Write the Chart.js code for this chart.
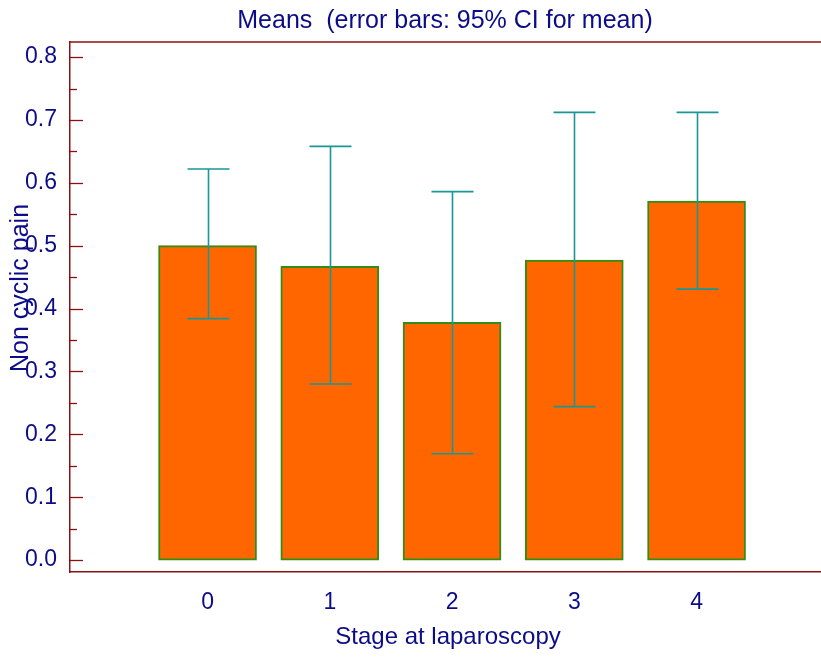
<!DOCTYPE html>
<html>
<head>
<meta charset="utf-8">
<title>Non cyclic pain by stage</title>
<script src="https://cdn.jsdelivr.net/npm/chart.js@4.4.1/dist/chart.umd.min.js"></script>
<style>
    html, body { margin: 0; padding: 0; background: #ffffff; }
    #wrap { width: 821px; height: 657px; }
</style>
</head>
<body>
<div id="wrap"><canvas id="meansChart" width="821" height="657"></canvas></div>
<script>
const stages = ["0", "1", "2", "3", "4"];
const means = [0.500, 0.467, 0.378, 0.477, 0.571];
const ciLower = [0.384, 0.280, 0.169, 0.244, 0.431];
const ciUpper = [0.622, 0.658, 0.586, 0.712, 0.712];
const yTicks = [0.0, 0.1, 0.2, 0.3, 0.4, 0.5, 0.6, 0.7, 0.8];

const chartTitle = "Means  (error bars: 95% CI for mean)";
const xTitle = "Stage at laparoscopy";
const yTitle = "Non cyclic pain";

const textColor = "#0c0c88";
const axisColor = "#8b1010";
const errColor = "#1a9696";
const fontFamily = "'Liberation Sans', Arial, sans-serif";

// titles, top frame line, inward y ticks and the CI whiskers
const decorPlugin = {
    id: "decor",
    afterDatasetsDraw(chart) {
        const ctx = chart.ctx;
        const area = chart.chartArea;
        const x = chart.scales.x;
        const y = chart.scales.y;

        ctx.save();

        // error bars
        ctx.strokeStyle = errColor;
        ctx.lineWidth = 1.6;
        const capHalf = 21;
        stages.forEach((s, i) => {
            const px = Math.round(x.getPixelForValue(i)) + 0.5;
            const top = y.getPixelForValue(ciUpper[i]);
            const bot = y.getPixelForValue(ciLower[i]);
            ctx.beginPath();
            ctx.moveTo(px, top);
            ctx.lineTo(px, bot);
            ctx.moveTo(px - capHalf, top);
            ctx.lineTo(px + capHalf, top);
            ctx.moveTo(px - capHalf, bot);
            ctx.lineTo(px + capHalf, bot);
            ctx.stroke();
        });

        // top frame line
        ctx.strokeStyle = axisColor;
        ctx.lineWidth = 1.5;
        ctx.beginPath();
        ctx.moveTo(area.left, area.top);
        ctx.lineTo(chart.width, area.top);
        ctx.stroke();

        // y ticks drawn inside the plot
        ctx.lineWidth = 1.3;
        yTicks.forEach((v) => {
            const py = Math.round(y.getPixelForValue(v)) + 0.5;
            ctx.beginPath();
            ctx.moveTo(area.left, py);
            ctx.lineTo(area.left + 13, py);
            ctx.stroke();
            const pm = Math.round(y.getPixelForValue(v + 0.05)) + 0.5;
            if (v + 0.05 < y.max) {
                ctx.beginPath();
                ctx.moveTo(area.left, pm);
                ctx.lineTo(area.left + 7, pm);
                ctx.stroke();
            }
        });

        // texts
        ctx.fillStyle = textColor;
        ctx.textAlign = "center";
        ctx.textBaseline = "middle";
        ctx.font = "25px " + fontFamily;
        ctx.fillText(chartTitle, 445, 21);

        ctx.font = "24px " + fontFamily;
        ctx.fillText(xTitle, 448, 637);

        ctx.font = "25px " + fontFamily;
        ctx.translate(21, 288);
        ctx.rotate(-Math.PI / 2);
        ctx.fillText(yTitle, 0, 0);

        ctx.restore();
    }
};

new Chart(document.getElementById("meansChart"), {
    type: "bar",
    data: {
        datasets: [
            {
                data: means.map((m, i) => ({ x: i, y: m })),
                backgroundColor: "#ff6600",
                borderColor: "#348c14",
                borderWidth: 2,
                borderSkipped: false,
                barThickness: 98
            }
        ]
    },
    options: {
        responsive: false,
        animation: false,
        layout: {
            padding: { top: 42, right: 0, bottom: 0, left: 0 }
        },
        plugins: {
            legend: { display: false },
            tooltip: { enabled: false },
            title: { display: false }
        },
        scales: {
            x: {
                type: "linear",
                offset: false,
                min: -1.125,
                max: 5.018,
                afterBuildTicks: (scale) => {
                    scale.ticks = stages.map((s, i) => ({ value: i }));
                },
                afterFit: (scale) => {
                    scale.height = 85;
                },
                grid: { display: false, drawTicks: false, offset: false },
                border: { display: true, color: axisColor, width: 1.5 },
                ticks: {
                    color: textColor,
                    font: { family: fontFamily, size: 23 },
                    padding: 17,
                    callback: (v) => stages[v]
                }
            },
            y: {
                type: "linear",
                min: -0.019,
                max: 0.824,
                afterBuildTicks: (scale) => {
                    scale.ticks = yTicks.map((v) => ({ value: v }));
                },
                afterFit: (scale) => {
                    scale.width = 70;
                },
                grid: { display: false, drawTicks: false },
                border: { display: true, color: axisColor, width: 1.5 },
                ticks: {
                    color: textColor,
                    font: { family: fontFamily, size: 23 },
                    padding: 13,
                    callback: (v) => v.toFixed(1)
                }
            }
        }
    },
    plugins: [decorPlugin]
});
</script>
</body>
</html>
